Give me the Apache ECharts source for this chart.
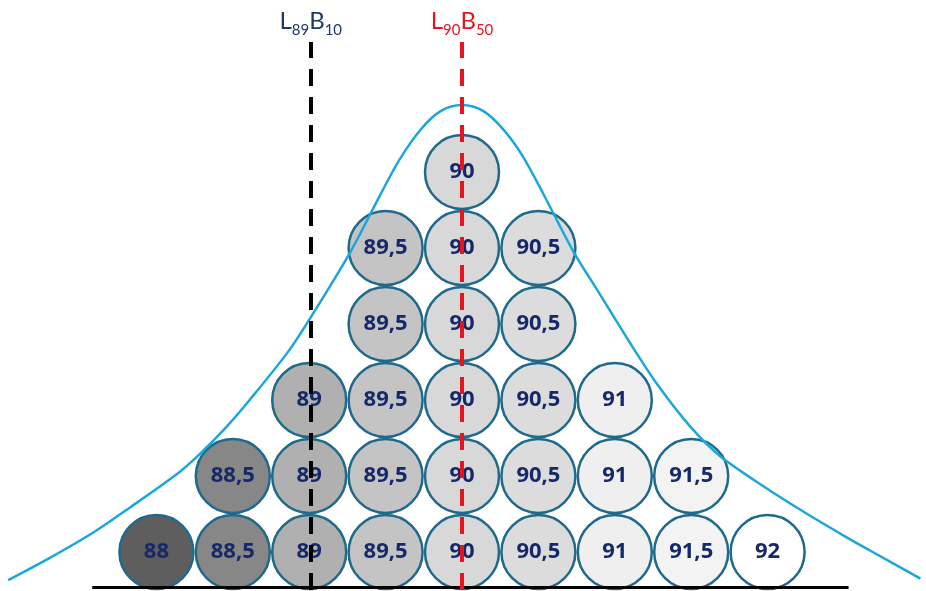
<!DOCTYPE html>
<html>
<head>
<meta charset="utf-8">
<script src="https://cdn.jsdelivr.net/npm/echarts@6/dist/echarts.min.js"></script>
<style>
  html, body { margin: 0; padding: 0; background: #fff; }
  #chart { width: 926px; height: 591px; }
</style>
</head>
<body>
<div id="chart"></div>
<script>
// measured values, one column per half point
const values = [88, 88.5, 89, 89.5, 90, 90.5, 91, 91.5, 92];
const labels = ['88', '88,5', '89', '89,5', '90', '90,5', '91', '91,5', '92'];
const counts = [1, 2, 3, 5, 6, 5, 3, 2, 1];

// fitted distribution curve (x value, height in circle rows)
const curveX = [87.03, 87.30, 87.59, 87.83, 88.15, 88.29, 88.46, 88.61, 88.86, 89.02, 89.27, 89.46, 89.59, 89.73, 89.86, 90.00,
  90.14, 90.27, 90.40, 90.53, 90.73, 90.90, 91.10, 91.28, 91.49, 91.69, 92.00, 92.26, 92.52, 92.67, 93.00];
const curveY = [0.13, 0.42, 0.76, 1.09, 1.55, 1.80, 2.15, 2.50, 3.13, 3.62, 4.45, 5.18, 5.66, 6.06, 6.30, 6.38,
  6.30, 6.06, 5.70, 5.22, 4.45, 3.90, 3.25, 2.70, 2.16, 1.76, 1.33, 1.00, 0.69, 0.52, 0.15];

// reference lines
const refLines = [
  { value: 89.01, main: ['L', 'B'], sub: ['89', '10'] },
  { value: 90, main: ['L', 'B'], sub: ['90', '50'] }
];
const refTop = 7.21;
const baseRange = [87.58, 92.53];

// styles
const fillColors = ['#5e5e5e', '#878787', '#b0b0b0', '#c4c4c4', '#d8d8d8', '#dcdcdc', '#efefef', '#f3f3f3', '#ffffff'];
const refColors = ['#1f3864', '#e8141c'];
const refLineColors = ['#000000', '#e8141c'];

const circles = [];
values.forEach((v, i) => {
  for (let k = 0; k < counts[i]; k++) {
    circles.push({
      value: [v, k + 0.5],
      label: { formatter: labels[i] },
      itemStyle: { color: fillColors[i] }
    });
  }
});

function refLabel(r, i) {
  return {
    show: true,
    position: 'end',
    distance: 4,
    formatter: '{a|' + r.main[0] + '}{s|' + r.sub[0] + '}{a|' + r.main[1] + '}{s|' + r.sub[1] + '}',
    rich: {
      a: { fontFamily: 'Lato', fontSize: 24, lineHeight: 24, color: refColors[i], padding: [0, 0, 5, 0], verticalAlign: 'bottom' },
      s: { fontFamily: 'Lato', fontSize: 15, lineHeight: 15, color: refColors[i], verticalAlign: 'bottom' }
    }
  };
}

const chart = echarts.init(document.getElementById('chart'));
chart.setOption({
  animation: false,
  grid: { left: 3.6, right: 5.6, top: 20, bottom: 1 },
  xAxis: { type: 'value', min: 87, max: 93, show: false },
  yAxis: { type: 'value', min: 0, max: 7.5, show: false },
  series: [
    {
      type: 'scatter',
      z: 2,
      symbol: 'circle',
      symbolSize: 74,
      data: circles,
      itemStyle: { borderColor: '#1f6a8c', borderWidth: 2.5, opacity: 1 },
      label: {
        show: true,
        position: 'inside',
        fontFamily: 'Open Sans',
        fontWeight: 'bold',
        fontSize: 22,
        color: '#15296a'
      },
      emphasis: { disabled: true }
    },
    {
      type: 'line',
      z: 3,
      smooth: 0.3,
      symbol: 'none',
      clip: false,
      data: curveX.map((x, i) => [x, curveY[i]]),
      lineStyle: { color: '#1ba7dc', width: 2.5 },
      markLine: {
        silent: true,
        symbol: 'none',
        animation: false,
        data: [
          [
            { coord: [baseRange[0], 0.03], lineStyle: { color: '#000', width: 3, type: 'solid' }, label: { show: false } },
            { coord: [baseRange[1], 0.03] }
          ]
        ].concat(refLines.map((r, i) => [
          {
            coord: [r.value, 0],
            lineStyle: { color: refLineColors[i], width: 4, type: [17, 11] },
            label: refLabel(r, i)
          },
          { coord: [r.value, refTop] }
        ]))
      }
    }
  ]
});
</script>
</body>
</html>
